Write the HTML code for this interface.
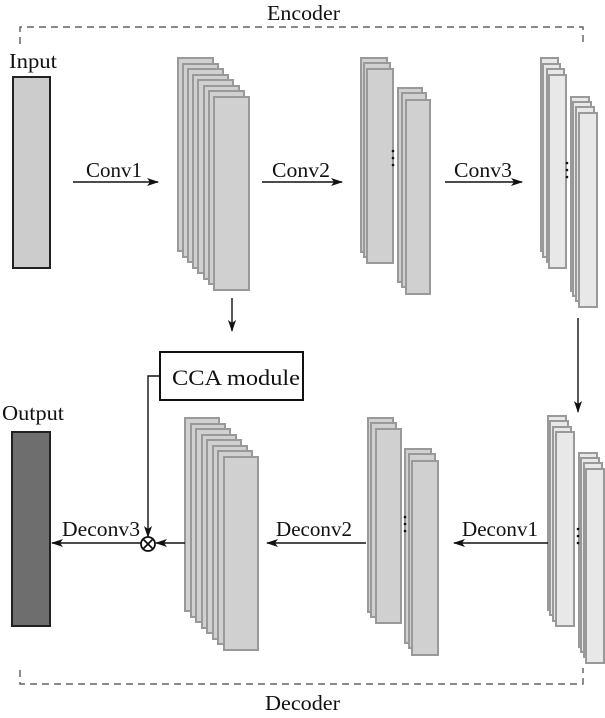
<!DOCTYPE html>
<html><head><meta charset="utf-8"><style>
html,body{margin:0;padding:0;background:#fff;}
svg{display:block;}
text{font-family:"Liberation Serif",serif;fill:#111;}
</style></head><body>
<svg width="605" height="718" viewBox="0 0 605 718" xmlns="http://www.w3.org/2000/svg">
<defs>
<marker id="ar" markerWidth="12" markerHeight="8" refX="11" refY="4" orient="auto" markerUnits="userSpaceOnUse">
<path d="M0,0 L12,4 L0,8 L3,4 Z" fill="#111"/></marker>
</defs>
<!-- dashed frame -->
<g stroke="#444" stroke-width="1.2" stroke-dasharray="7,5" fill="none">
<path d="M20,44 V27 H583 V45"/>
<path d="M20,670 V684 H583 V668"/>
</g>
<text x="267" y="20" font-size="21" textLength="73" lengthAdjust="spacingAndGlyphs">Encoder</text>
<text x="265" y="710" font-size="21" textLength="75" lengthAdjust="spacingAndGlyphs">Decoder</text>

<!-- input/output -->
<text x="9" y="68" font-size="21" textLength="48" lengthAdjust="spacingAndGlyphs">Input</text>
<rect x="13" y="77" width="37" height="191" fill="#cccccc" stroke="#222" stroke-width="2"/>
<text x="2" y="420" font-size="21" textLength="62" lengthAdjust="spacingAndGlyphs">Output</text>
<rect x="12" y="432" width="38" height="194" fill="#6e6e6e" stroke="#222" stroke-width="2"/>

<g stroke="#999" stroke-width="2" fill="#d0d0d0">
<rect x="178" y="58" width="35" height="193"/>
<rect x="183" y="64" width="35" height="193"/>
<rect x="188" y="69" width="35" height="193"/>
<rect x="193" y="75" width="35" height="193"/>
<rect x="198" y="80" width="35" height="193"/>
<rect x="204" y="86" width="35" height="193"/>
<rect x="209" y="91" width="35" height="193"/>
<rect x="214" y="97" width="35" height="193"/>
<rect x="361" y="58" width="26" height="194"/>
<rect x="364" y="63" width="26" height="194"/>
<rect x="367" y="69" width="26" height="194"/>
<rect x="398" y="88" width="24" height="194"/>
<rect x="402" y="93" width="24" height="194"/>
<rect x="406" y="100" width="24" height="194"/>
<rect x="185" y="418" width="34" height="193"/>
<rect x="191" y="424" width="34" height="193"/>
<rect x="196" y="429" width="34" height="193"/>
<rect x="202" y="435" width="34" height="193"/>
<rect x="207" y="440" width="34" height="193"/>
<rect x="213" y="446" width="34" height="193"/>
<rect x="218" y="451" width="34" height="193"/>
<rect x="224" y="457" width="34" height="193"/>
<rect x="368" y="418" width="25" height="194"/>
<rect x="371" y="423" width="25" height="194"/>
<rect x="376" y="429" width="25" height="194"/>
<rect x="405" y="449" width="26" height="194"/>
<rect x="409" y="454" width="26" height="194"/>
<rect x="412" y="461" width="26" height="194"/>
</g>
<g stroke="#999" stroke-width="2" fill="#e8e8e8">
<rect x="541" y="58" width="17" height="193"/>
<rect x="543" y="64" width="17" height="193"/>
<rect x="547" y="69" width="17" height="193"/>
<rect x="549" y="75" width="17" height="193"/>
<rect x="571" y="97" width="18" height="194"/>
<rect x="573" y="102" width="18" height="194"/>
<rect x="576" y="107" width="18" height="194"/>
<rect x="579" y="113" width="18" height="194"/>
<rect x="548" y="416" width="18" height="194"/>
<rect x="550" y="421" width="18" height="194"/>
<rect x="553" y="427" width="18" height="194"/>
<rect x="556" y="432" width="18" height="194"/>
<rect x="579" y="453" width="18" height="194"/>
<rect x="581" y="458" width="18" height="194"/>
<rect x="584" y="463" width="18" height="194"/>
<rect x="586" y="469" width="18" height="194"/>
</g>
<g fill="#111">
<circle cx="393" cy="151" r="1.3"/><circle cx="393" cy="158" r="1.3"/><circle cx="393" cy="165" r="1.3"/>
<circle cx="567" cy="163" r="1.3"/><circle cx="567" cy="170" r="1.3"/><circle cx="567" cy="177" r="1.3"/>
<circle cx="405" cy="517" r="1.3"/><circle cx="405" cy="524" r="1.3"/><circle cx="405" cy="531" r="1.3"/>
<circle cx="578" cy="529" r="1.3"/><circle cx="578" cy="536" r="1.3"/><circle cx="578" cy="543" r="1.3"/>
</g>

<g stroke="#111" stroke-width="1.4" fill="none" marker-end="url(#ar)">
<line x1="73" y1="182" x2="158" y2="182"/>
<line x1="262" y1="182" x2="342" y2="182"/>
<line x1="445" y1="182" x2="522" y2="182"/>
<line x1="232" y1="298" x2="232" y2="331"/>
<line x1="578" y1="318" x2="578" y2="412"/>
<line x1="548" y1="543" x2="454" y2="543"/>
<line x1="366" y1="543" x2="267" y2="543"/>
<line x1="185" y1="543" x2="156" y2="543"/>
<line x1="141" y1="543" x2="52" y2="543"/>
<polyline points="160,376 148,376 148,537"/>
</g>
<text x="86" y="177" font-size="21" textLength="56" lengthAdjust="spacingAndGlyphs">Conv1</text>
<text x="272" y="177" font-size="21" textLength="58" lengthAdjust="spacingAndGlyphs">Conv2</text>
<text x="454" y="177" font-size="21" textLength="58" lengthAdjust="spacingAndGlyphs">Conv3</text>
<text x="462" y="536" font-size="21" textLength="76" lengthAdjust="spacingAndGlyphs">Deconv1</text>
<text x="276" y="536" font-size="21" textLength="76" lengthAdjust="spacingAndGlyphs">Deconv2</text>
<text x="62" y="536" font-size="21" textLength="78" lengthAdjust="spacingAndGlyphs">Deconv3</text>

<rect x="160" y="352" width="143" height="48" fill="#fff" stroke="#111" stroke-width="2"/>
<text x="172" y="385" font-size="22" textLength="128" lengthAdjust="spacingAndGlyphs">CCA module</text>
<circle cx="148" cy="544" r="7" fill="#fff" stroke="#111" stroke-width="1.8"/>
<path d="M143,539 L153,549 M153,539 L143,549" stroke="#111" stroke-width="1.8"/>
</svg>
</body></html>
